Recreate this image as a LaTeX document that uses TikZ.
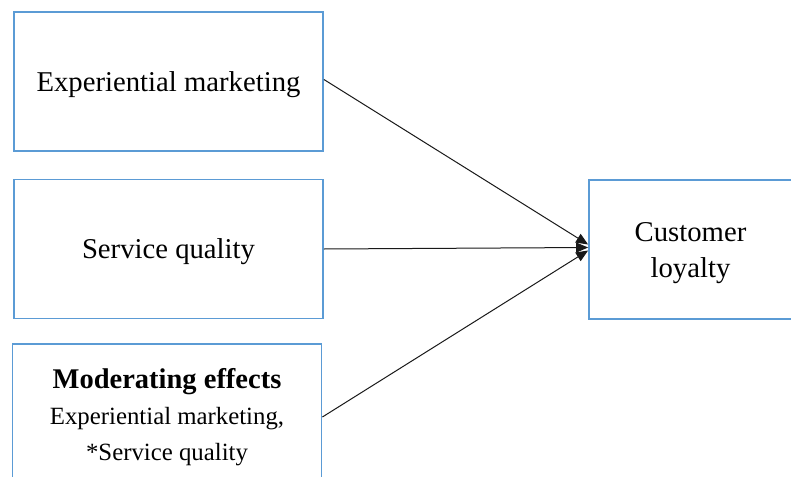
\documentclass[tikz,border=0pt]{standalone}
\usepackage{fontspec}
\setmainfont{Liberation Serif}
\definecolor{boxblue}{HTML}{5B9BD5}
\usetikzlibrary{arrows.meta, positioning}

\begin{document}
\begin{tikzpicture}[x=1pt, y=-1pt,
      factor/.style={draw=boxblue, line width=1.8pt, fill=white,
                     align=center, inner sep=0pt, text depth=0pt,
                     font=\fontsize{28.7}{36}\selectfont,
                     minimum width=309pt, minimum height=139pt},
      outcome/.style={factor, minimum width=203pt},
      arr/.style={-{Triangle[length=12pt, width=10pt]}, line width=1pt, black!90}
    ]
      \useasboundingbox (0,0) rectangle (791,476);

      \node[factor] (em) at (168.5,81.5) {Experiential marketing};
      \node[factor] (sq) at (168.5,249) {Service quality};
      \node[factor, minimum height=140pt] (mod) at (167,414)
        {{\fontsize{28.5}{35}\selectfont\bfseries Moderating effects}\\
         {\fontsize{24.8}{35}\selectfont Experiential marketing,}\\
         {\fontsize{24.8}{35}\selectfont *Service quality}};

      \node[outcome] (cl) at (690.5,249.5) {Customer\\loyalty};

      \draw[arr] (em.east) ++(0,-2) -- ([yshift=5pt]cl.west);
      \draw[arr] (sq.east) -- ([yshift=2pt]cl.west);
      \draw[arr] (mod.east) ++(0,3) -- ([yshift=-1pt]cl.west);
    \end{tikzpicture}
\end{document}
